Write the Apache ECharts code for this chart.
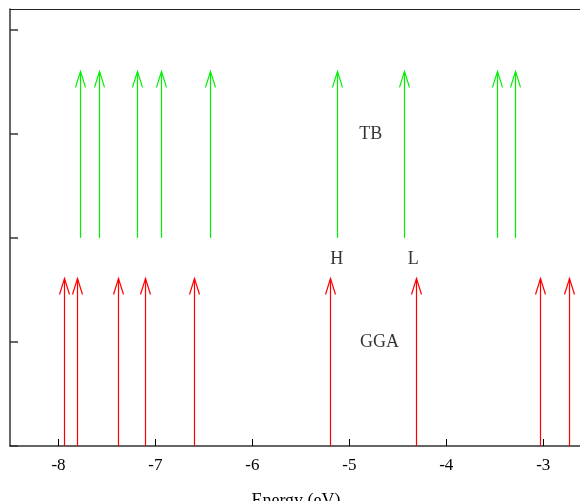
<!DOCTYPE html>
<html>
<head>
<meta charset="utf-8">
<script src="https://cdn.jsdelivr.net/npm/echarts@6/dist/echarts.min.js"></script>
<style>html,body{margin:0;padding:0;background:#fff}#c{width:580px;height:501px}</style>
</head>
<body>
<div id="c"></div>
<script>
// Energy levels (eV)
const tbLevels = [-7.78, -7.58, -7.19, -6.94, -6.44, -5.13, -4.44, -3.48, -3.29];
const ggaLevels = [-7.94, -7.81, -7.39, -7.11, -6.60, -5.20, -4.31, -3.03, -2.73];
const tbBase = 2.0, tbTip = 3.6;
const ggaBase = 0.0, ggaTip = 1.61;
const xTicks = [-8, -7, -6, -5, -4, -3];
const yTicks = [0, 1, 2, 3, 4];
const labelTexts = ['TB', 'H', 'L', 'GGA'];
const labelX = [-4.78, -5.13, -4.34, -4.69];
const labelY = [3.0, 1.79, 1.79, 1.0];

const font = 'Liberation Serif, Times New Roman, serif';

function arrowSeries(levels, base, tip, color) {
  return {
    type: 'custom',
    data: levels.map(v => [v, base, tip]),
    clip: false,
    renderItem: function (params, api) {
      const p0 = api.coord([api.value(0), api.value(1)]);
      const p1 = api.coord([api.value(0), api.value(2)]);
      const x = Math.round(p0[0]) + 0.5;
      return {
        type: 'group',
        children: [
          { type: 'line', shape: { x1: x, y1: p0[1], x2: x, y2: p1[1] },
            style: { stroke: color, lineWidth: 1.2 } },
          { type: 'polyline', shape: { points: [[x - 5, p1[1] + 16], [x, p1[1]], [x + 5, p1[1] + 16]] },
            style: { stroke: color, lineWidth: 1.2, fill: null } }
        ]
      };
    }
  };
}

const chart = echarts.init(document.getElementById('c'));
chart.setOption({
  animation: false,
  backgroundColor: '#fff',
  grid: { left: 10, top: 9, width: 572, height: 437, containLabel: false, outerBoundsMode: 'none', show: false },
  xAxis: [{
    type: 'value', min: -8.5, max: -2.6,
    name: 'Energy (eV)', nameLocation: 'middle', nameGap: 46,
    nameTextStyle: { fontFamily: font, fontSize: 18, color: '#000' },
    axisLine: { show: true, lineStyle: { color: '#333', width: 1.5 } },
    axisTick: { show: true, inside: true, length: 7, customValues: xTicks, lineStyle: { color: '#000', width: 1 } },
    axisLabel: { show: true, customValues: xTicks, fontFamily: font, fontSize: 17, color: '#000', margin: 11,
      formatter: v => String(v) },
    splitLine: { show: false }
  }, {
    type: 'value', min: -8.5, max: -2.6, position: 'top',
    axisLine: { show: true, onZero: false, lineStyle: { color: '#222', width: 1.2 } },
    axisTick: { show: false }, axisLabel: { show: false }, splitLine: { show: false }
  }],
  yAxis: {
    type: 'value', min: 0, max: 4.2,
    axisLine: { show: true, lineStyle: { color: '#333', width: 1.5 } },
    axisTick: { show: true, inside: true, length: 8, customValues: yTicks, lineStyle: { color: '#333', width: 1.5 } },
    axisLabel: { show: false },
    splitLine: { show: false }
  },
  series: [
    arrowSeries(tbLevels, tbBase, tbTip, '#00f000'),
    arrowSeries(ggaLevels, ggaBase, ggaTip, '#ff0000'),
    {
      type: 'scatter',
      symbolSize: 0,
      silent: true,
      data: labelTexts.map((t, i) => ({ value: [labelX[i], labelY[i]], name: t })),
      label: { show: true, position: 'inside', formatter: p => p.name,
        fontFamily: font, fontSize: 18, color: '#000', textBorderWidth: 0 }
    }
  ]
});
</script>
</body>
</html>
